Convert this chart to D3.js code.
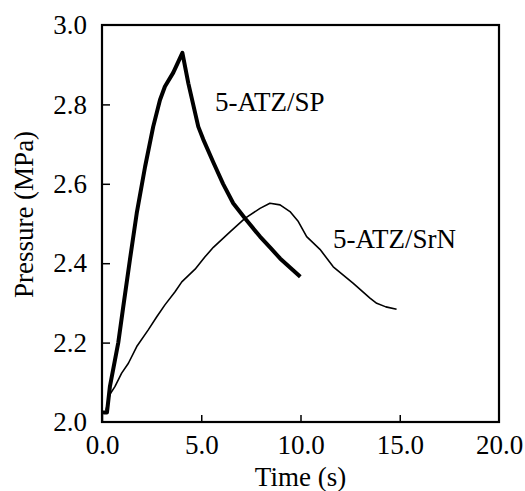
<!DOCTYPE html>
<html>
<head>
<meta charset="utf-8">
<script src="https://cdn.jsdelivr.net/npm/d3@7"></script>
<style>
  body { margin: 0; background: #fff; }
  text { font-family: "Liberation Serif", "Times New Roman", serif; fill: #000; }
</style>
</head>
<body>
<script>
// data
const spTime = [0, 0.25, 0.4, 0.82, 1.07, 1.41, 1.75, 2.17, 2.58, 2.92, 3.17, 3.59, 4.05, 4.35, 4.85, 5.1, 5.6, 6.1, 6.61, 7.2, 7.96, 8.5, 8.97, 9.5, 9.99]
const spPressure = [2.024, 2.024, 2.09, 2.2, 2.29, 2.41, 2.526, 2.643, 2.744, 2.811, 2.845, 2.88, 2.93, 2.853, 2.744, 2.712, 2.655, 2.6, 2.551, 2.513, 2.467, 2.438, 2.412, 2.388, 2.366]

const srnTime = [0.2, 0.4, 0.65, 0.99, 1.33, 1.75, 2.33, 2.76, 3.17, 3.68, 4.02, 4.69, 5.19, 5.61, 6.45, 7.2, 7.96, 8.46, 8.97, 9.47, 9.89, 10.31, 10.98, 11.65, 12.66, 13.5, 13.84, 14.3, 14.84]
const srnPressure = [2.03, 2.07, 2.089, 2.123, 2.148, 2.19, 2.232, 2.265, 2.295, 2.328, 2.353, 2.385, 2.416, 2.44, 2.479, 2.513, 2.538, 2.551, 2.547, 2.53, 2.505, 2.467, 2.435, 2.391, 2.349, 2.312, 2.299, 2.29, 2.284]

const xTicks = [0, 5, 10, 15, 20]
const yTicks = [2.0, 2.2, 2.4, 2.6, 2.8, 3.0]

const width = 525, height = 491
const margin = {left: 102, right: 26, top: 25, bottom: 69}
const fs = 27

const svg = d3.select("body").append("svg")
    .attr("width", width)
    .attr("height", height)

const x = d3.scaleLinear().domain([0, 20]).range([margin.left, width - margin.right])
const y = d3.scaleLinear().domain([2.0, 3.0]).range([height - margin.bottom, margin.top])

// axes, ticks point inward
const xAxis = svg.append("g")
    .attr("transform", `translate(0,${height - margin.bottom})`)
    .call(d3.axisBottom(x).tickValues(xTicks).tickSizeInner(-7).tickSizeOuter(0).tickPadding(13).tickFormat(d3.format(".1f")))
const yAxis = svg.append("g")
    .attr("transform", `translate(${margin.left},0)`)
    .call(d3.axisLeft(y).tickValues(yTicks).tickSizeInner(-8).tickSizeOuter(0).tickPadding(15).tickFormat(d3.format(".1f")))

for (const ax of [xAxis, yAxis]) {
    ax.select(".domain").remove()
    ax.selectAll(".tick line").attr("stroke", "#000").attr("stroke-width", 1.5)
    ax.selectAll(".tick text").attr("font-size", fs).attr("font-family", "Liberation Serif")
}
xAxis.selectAll(".tick text").attr("dy", "0.71em")
xAxis.selectAll(".tick").filter(d => d === 20).select("line").remove()
yAxis.selectAll(".tick").filter(d => d === 3.0 || d === 2.0).select("line").remove()

// frame
svg.append("rect")
    .attr("x", x(0))
    .attr("y", y(3))
    .attr("width", x(20) - x(0))
    .attr("height", y(2) - y(3))
    .attr("fill", "none")
    .attr("stroke", "#000")
    .attr("stroke-width", 2.2)

const line = d3.line().x(d => x(d[0])).y(d => y(d[1]))

svg.append("path")
    .datum(srnTime.map((t, i) => [t, srnPressure[i]]))
    .attr("d", line)
    .attr("fill", "none")
    .attr("stroke", "#000")
    .attr("stroke-width", 1.6)
    .attr("stroke-linejoin", "round")

svg.append("path")
    .datum(spTime.map((t, i) => [t, spPressure[i]]))
    .attr("d", line)
    .attr("fill", "none")
    .attr("stroke", "#000")
    .attr("stroke-width", 4)
    .attr("stroke-linejoin", "round")

// series labels
svg.append("text").text("5-ATZ/SP")
    .attr("x", 215).attr("y", 111)
    .attr("font-size", fs)
svg.append("text").text("5-ATZ/SrN")
    .attr("x", 333).attr("y", 248)
    .attr("font-size", fs)

// axis titles
svg.append("text").text("Time (s)")
    .attr("x", x(10)).attr("y", 486)
    .attr("text-anchor", "middle")
    .attr("font-size", fs)
svg.append("text").text("Pressure (MPa)")
    .attr("transform", `translate(33,${y(2.5) - 9}) rotate(-90)`)
    .attr("text-anchor", "middle")
    .attr("font-size", fs)
</script>
</body>
</html>
